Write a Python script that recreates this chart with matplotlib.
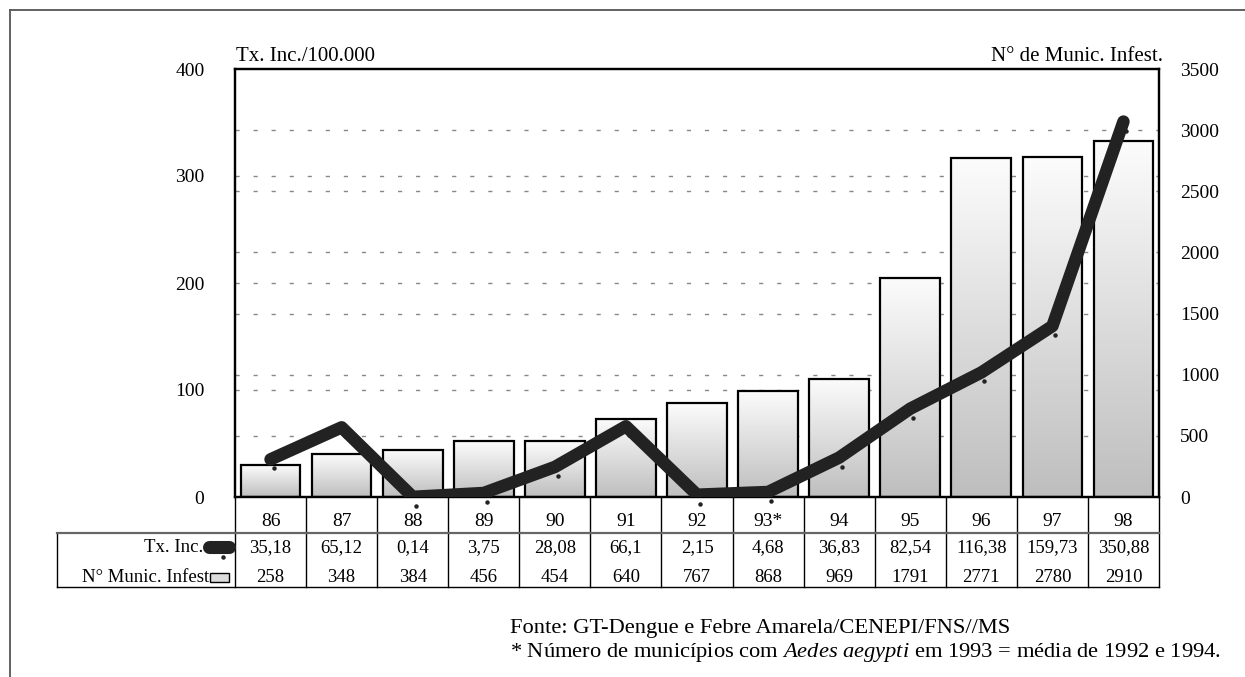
import numpy as np
import matplotlib
matplotlib.use("Agg")
import matplotlib.pyplot as plt
from matplotlib.colors import LinearSegmentedColormap
from matplotlib.lines import Line2D
from matplotlib.patches import Rectangle
from matplotlib.transforms import blended_transform_factory, offset_copy

plt.rcParams.update({
    'font.family': 'Liberation Serif',
    'mathtext.fontset': 'custom',
    'mathtext.rm': 'Liberation Serif',
    'mathtext.it': 'Liberation Serif:italic',
})

# dados
anos = ['86', '87', '88', '89', '90', '91', '92', '93*', '94', '95', '96', '97', '98']
tx_inc = [35.18, 65.12, 0.14, 3.75, 28.08, 66.1, 2.15, 4.68, 36.83, 82.54, 116.38, 159.73, 350.88]
munic = [258, 348, 384, 456, 454, 640, 767, 868, 969, 1791, 2771, 2780, 2910]
ticks_tx = [0, 100, 200, 300, 400]
ticks_mun = [0, 500, 1000, 1500, 2000, 2500, 3000, 3500]

fig = plt.figure(figsize=(12.45, 6.77), dpi=100)
W, H = 1245, 677
ax = fig.add_axes([235 / W, 1 - 497 / H, (1159 - 235) / W, (497 - 69) / H])
ax2 = ax.twinx()

x = np.arange(len(anos))
cinza = LinearSegmentedColormap.from_list('cinza', ['#bebebe', '#fcfcfc'])

# barras (eixo dos municipios) com degradê
bars = ax.bar(x, munic, width=0.84, facecolor='none', edgecolor='black', linewidth=1.6, zorder=3)
grad = np.linspace(0, 1, 256).reshape(-1, 1)
for b in bars:
    im = ax.imshow(grad, extent=[b.get_x(), b.get_x() + b.get_width(), 0, b.get_height()],
                   origin='lower', aspect='auto', cmap=cinza, zorder=2)
    im.set_clip_path(b)

ax.set_xlim(-0.5, len(anos) - 0.5)
ax.set_ylim(0, ticks_mun[-1])
ax2.set_ylim(0, ticks_tx[-1])

# linhas de grade tracejadas para as duas escalas
for v in ticks_mun[1:-1]:
    ax.axhline(v, color='#888888', lw=1, dashes=(3, 10), zorder=1)
for v in ticks_tx[1:-1]:
    ax.axhline(v * ticks_mun[-1] / ticks_tx[-1], color='#888888', lw=1, dashes=(3, 10), zorder=1)

# taxa de incidencia
ax2.plot(x, tx_inc, color='#222222', lw=9, solid_capstyle='round', solid_joinstyle='round', zorder=5)
dots = offset_copy(ax2.transData, fig=fig, x=3, y=-9, units='dots')
ax2.plot(x, tx_inc, ls='none', marker='o', ms=2.2, color='#222222', transform=dots, clip_on=False)

# eixos: escala da taxa à esquerda, municipios à direita
ax.yaxis.tick_right()
ax2.yaxis.tick_left()
ax.set_yticks(ticks_mun)
ax2.set_yticks(ticks_tx)
ax.tick_params(axis='y', length=0, pad=15, labelsize=14)
ax2.tick_params(axis='y', length=0, pad=22, labelsize=14)
ax.set_xticks([])
for a in (ax, ax2):
    for s in a.spines.values():
        s.set_linewidth(1.6)
        s.set_color('black')

ax.text(0.001, 1.03, 'Tx. Inc./100.000', transform=ax.transAxes, fontsize=15,
        ha='left', va='center')
ax.text(1.004, 1.03, 'N° de Munic. Infest.', transform=ax.transAxes, fontsize=15,
        ha='right', va='center')

# tabela abaixo do grafico
tr = blended_transform_factory(ax.transData, ax.transAxes)
hdr_bot = -36 / 428
tab_bot = -90 / 428
x_left = -3.0
for k in range(len(anos) + 1):
    ax.add_line(Line2D([k - 0.5, k - 0.5], [0, tab_bot], transform=tr, color='black',
                       lw=1.0, clip_on=False))
ax.add_line(Line2D([x_left, x_left], [hdr_bot, tab_bot], transform=tr, color='black',
                   lw=1.0, clip_on=False))
ax.add_line(Line2D([x_left, len(anos) - 0.5], [hdr_bot, hdr_bot], transform=tr,
                   color='#666666', lw=1.6, clip_on=False))
ax.add_line(Line2D([x_left, len(anos) - 0.5], [tab_bot, tab_bot], transform=tr,
                   color='black', lw=1.0, clip_on=False))

for i, a in enumerate(anos):
    ax.text(i, -25 / 428, a, transform=tr, ha='center', va='center', fontsize=14)
    ax.text(i, -51 / 428, f"{tx_inc[i]:g}".replace('.', ','), transform=tr,
            ha='center', va='center', fontsize=13.5)
    ax.text(i, -80 / 428, f"{munic[i]}", transform=tr, ha='center', va='center', fontsize=13.5)

ax.text(-0.95, -51 / 428, 'Tx. Inc.', transform=tr, ha='right', va='center', fontsize=13.5)
ax.text(-0.865, -80 / 428, 'N° Munic. Infest', transform=tr, ha='right', va='center', fontsize=13.5)

# simbolos da legenda nas linhas da tabela
ax.add_line(Line2D([-0.865, -0.584], [-50 / 428, -50 / 428], transform=tr, color='#222222',
                   lw=9.4, solid_capstyle='round', clip_on=False))
ax.add_line(Line2D([-0.669], [-60 / 428], transform=tr, ls='none', marker='o', ms=2.2,
                   color='#222222', clip_on=False))
ax.add_patch(Rectangle((-0.851, -85 / 428), 0.267, 9 / 428, transform=tr, facecolor='#dcdcdc',
                       edgecolor='black', lw=1.0, clip_on=False))

# fonte e nota
fig.text(510 / W, 1 - 628 / H, 'Fonte: GT-Dengue e Febre Amarela/CENEPI/FNS//MS',
         fontsize=16.2, ha='left', va='center')
fig.text(510 / W, 1 - 653 / H,
         r'* Número de municípios com $\mathit{Aedes\ aegypti}$ em 1993 = média de 1992 e 1994.',
         fontsize=16.2, ha='left', va='center')

# moldura
fig.add_artist(Line2D([10 / W, 10 / W], [0, 1 - 10 / H], transform=fig.transFigure,
                      color='#555555', lw=1.3))
fig.add_artist(Line2D([10 / W, 1], [1 - 10 / H, 1 - 10 / H], transform=fig.transFigure,
                      color='#555555', lw=1.3))

fig.savefig('out.png', dpi=100)
